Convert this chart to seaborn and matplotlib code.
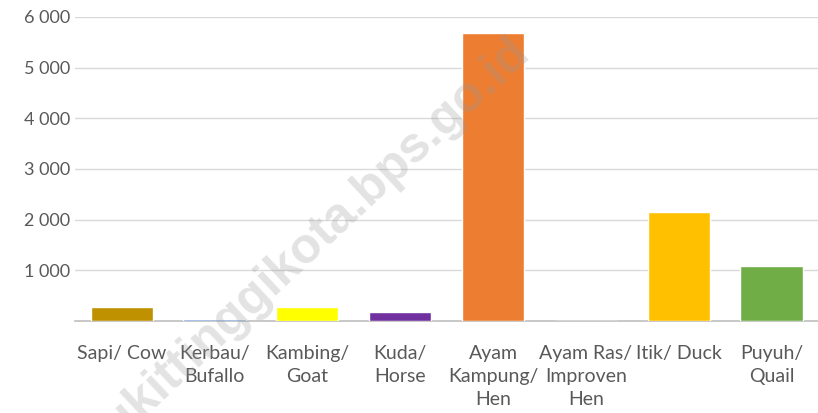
import matplotlib
matplotlib.use("Agg")
import matplotlib.pyplot as plt
import seaborn as sns
import pandas as pd

categories = ["Sapi/ Cow", "Kerbau/\nBufallo", "Kambing/\nGoat", "Kuda/\nHorse",
              "Ayam\nKampung/\nHen", "Ayam Ras/\nImproven\nHen", "Itik/ Duck", "Puyuh/\nQuail"]
values = [280, 35, 275, 180, 5680, 0, 2150, 1085]
colors = ["#BF9000", "#6F9BD8", "#FFFF00", "#7030A0", "#ED7D31", "#A5A5A5", "#FFC000", "#70AD47"]
yticks = [1000, 2000, 3000, 4000, 5000, 6000]

df = pd.DataFrame({"cat": categories, "val": values})

sns.set_style("white")
plt.rcParams["font.family"] = ["Lato", "DejaVu Sans"]

fig = plt.figure(figsize=(8.18, 4.13), dpi=100)
ax = fig.add_axes([0.092, 0.223, 0.908, 0.736])

sns.barplot(data=df, x="cat", y="val", hue="cat", palette=colors, legend=False,
            width=0.67, saturation=1, ax=ax)

ax.set_ylim(0, 6000)
ax.set_xlim(-0.5, len(categories) - 0.5)
ax.set_yticks(yticks)
ax.set_yticklabels([f"{v:,}".replace(",", " ") for v in yticks])
ax.yaxis.grid(True, color="#D9D9D9", linewidth=1)
ax.set_axisbelow(True)
for s in ["top", "right", "left"]:
    ax.spines[s].set_visible(False)
ax.spines["bottom"].set_color("#BFBFBF")
ax.spines["bottom"].set_linewidth(1.2)
ax.spines["bottom"].set_zorder(0.5)
ax.tick_params(axis="y", length=0, labelsize=13, colors="#595959")
ax.tick_params(axis="x", length=0, labelsize=14, colors="#595959", pad=17)
for lbl in ax.get_xticklabels():
    lbl.set_linespacing(1.45)
ax.set_xlabel("")
ax.set_ylabel("")

# watermark
fig.text(0.373, 0.40, "bukittinggikota.bps.go.id", fontsize=36, fontweight="bold",
         color="#999999", alpha=0.28, rotation=43, ha="center", va="center",
         family="Liberation Sans")

fig.savefig("out.png", dpi=100)
